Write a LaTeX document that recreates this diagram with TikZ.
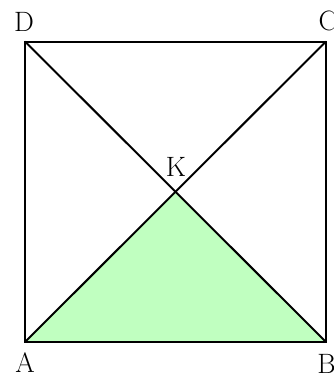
\documentclass[tikz,border=0pt]{standalone}
\definecolor{lightgreen}{RGB}{192,255,192}
\begin{document}
\begin{tikzpicture}[x=0.75pt,y=-0.75pt,
  edge/.style={draw=black,line width=1.5pt,line join=miter},
  lab/.style={font=\fontsize{21}{24}\selectfont,inner sep=0pt}]
\useasboundingbox (0,0) rectangle (334,376);
\coordinate (A) at (25,342);
\coordinate (B) at (326,342);
\coordinate (C) at (326,41.5);
\coordinate (D) at (25,41.5);
\coordinate (K) at (175.5,191.75);
\fill[lightgreen] (A) -- (B) -- (K) -- cycle;
\draw[edge] (A) -- (B) -- (C) -- (D) -- cycle;
\draw[edge] (A) -- (C);
\draw[edge] (B) -- (D);
\node[lab] (lD) at (24,22) {D};
\node[lab] (lC) at (328,21) {C};
\node[lab] (lA) at (25,363) {A};
\node[lab] (lB) at (326.5,364) {B};
\node[lab] (lK) at (176,167) {K};
\end{tikzpicture}
\end{document}
